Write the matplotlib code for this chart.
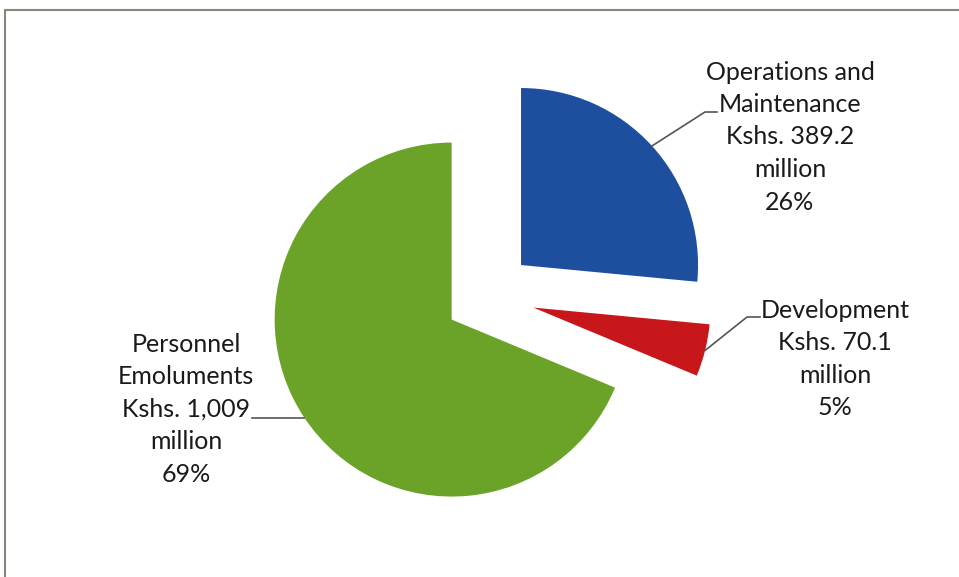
import matplotlib
matplotlib.use("Agg")
import matplotlib.pyplot as plt
import numpy as np

# ---- data ----
categories = ["Operations and\nMaintenance", "Development", "Personnel\nEmoluments"]
amounts = [389.2, 70.1, 1009]          # Kshs. million
amount_labels = ["389.2", "70.1", "1,009"]
percent_labels = ["26%", "5%", "69%"]
colors = ["#1d4f9e", "#c8171b", "#6ba329"]

W, H = 959, 577
R = 177
fig = plt.figure(figsize=(W / 100, H / 100), dpi=100)
ax = fig.add_axes([0, 0, 1, 1])

plt.rcParams['font.family'] = ['Lato', 'DejaVu Sans']

explode_frac = np.array([0.26, 0.27, 0.24])
wedges, _ = ax.pie(amounts, colors=colors, startangle=90, counterclock=False,
                   explode=explode_frac * R, radius=R, center=(487, H - 296),
                   wedgeprops=dict(linewidth=0), frame=True)
ax.set_xlim(0, W)
ax.set_ylim(0, H)
ax.set_aspect("equal")
ax.axis("off")

# frame border (only top and left visible in the scan)
ax.plot([W, 5, 5], [H - 10, H - 10, 0], color="#8a8378", lw=1.5, clip_on=False)

def arc_point(w):
    th = np.deg2rad((w.theta1 + w.theta2) / 2)
    cx, cy = w.center
    return cx + w.r * np.cos(th), cy + w.r * np.sin(th)

label_pos = [(790, H - 137), (835, H - 359), (186, H - 409)]
elbows = [[(705, H - 112), (717, H - 112)],
          [(747, H - 317), (760, H - 317)],
          [(252, None)]]

for i, w in enumerate(wedges):
    txt = f"{categories[i]}\nKshs. {amount_labels[i]}\nmillion\n{percent_labels[i]}"
    ax.text(label_pos[i][0], label_pos[i][1], txt, ha="center", va="center",
            multialignment="center", fontsize=18, color="#1a1a1a", linespacing=1.5)
    px, py = arc_point(w)
    xs, ys = [px], [py]
    for ex, ey in elbows[i]:
        xs.append(ex)
        ys.append(py if ey is None else ey)
    ax.plot(xs, ys, color="#555555", lw=1.2)

fig.savefig("out.png", dpi=100)
